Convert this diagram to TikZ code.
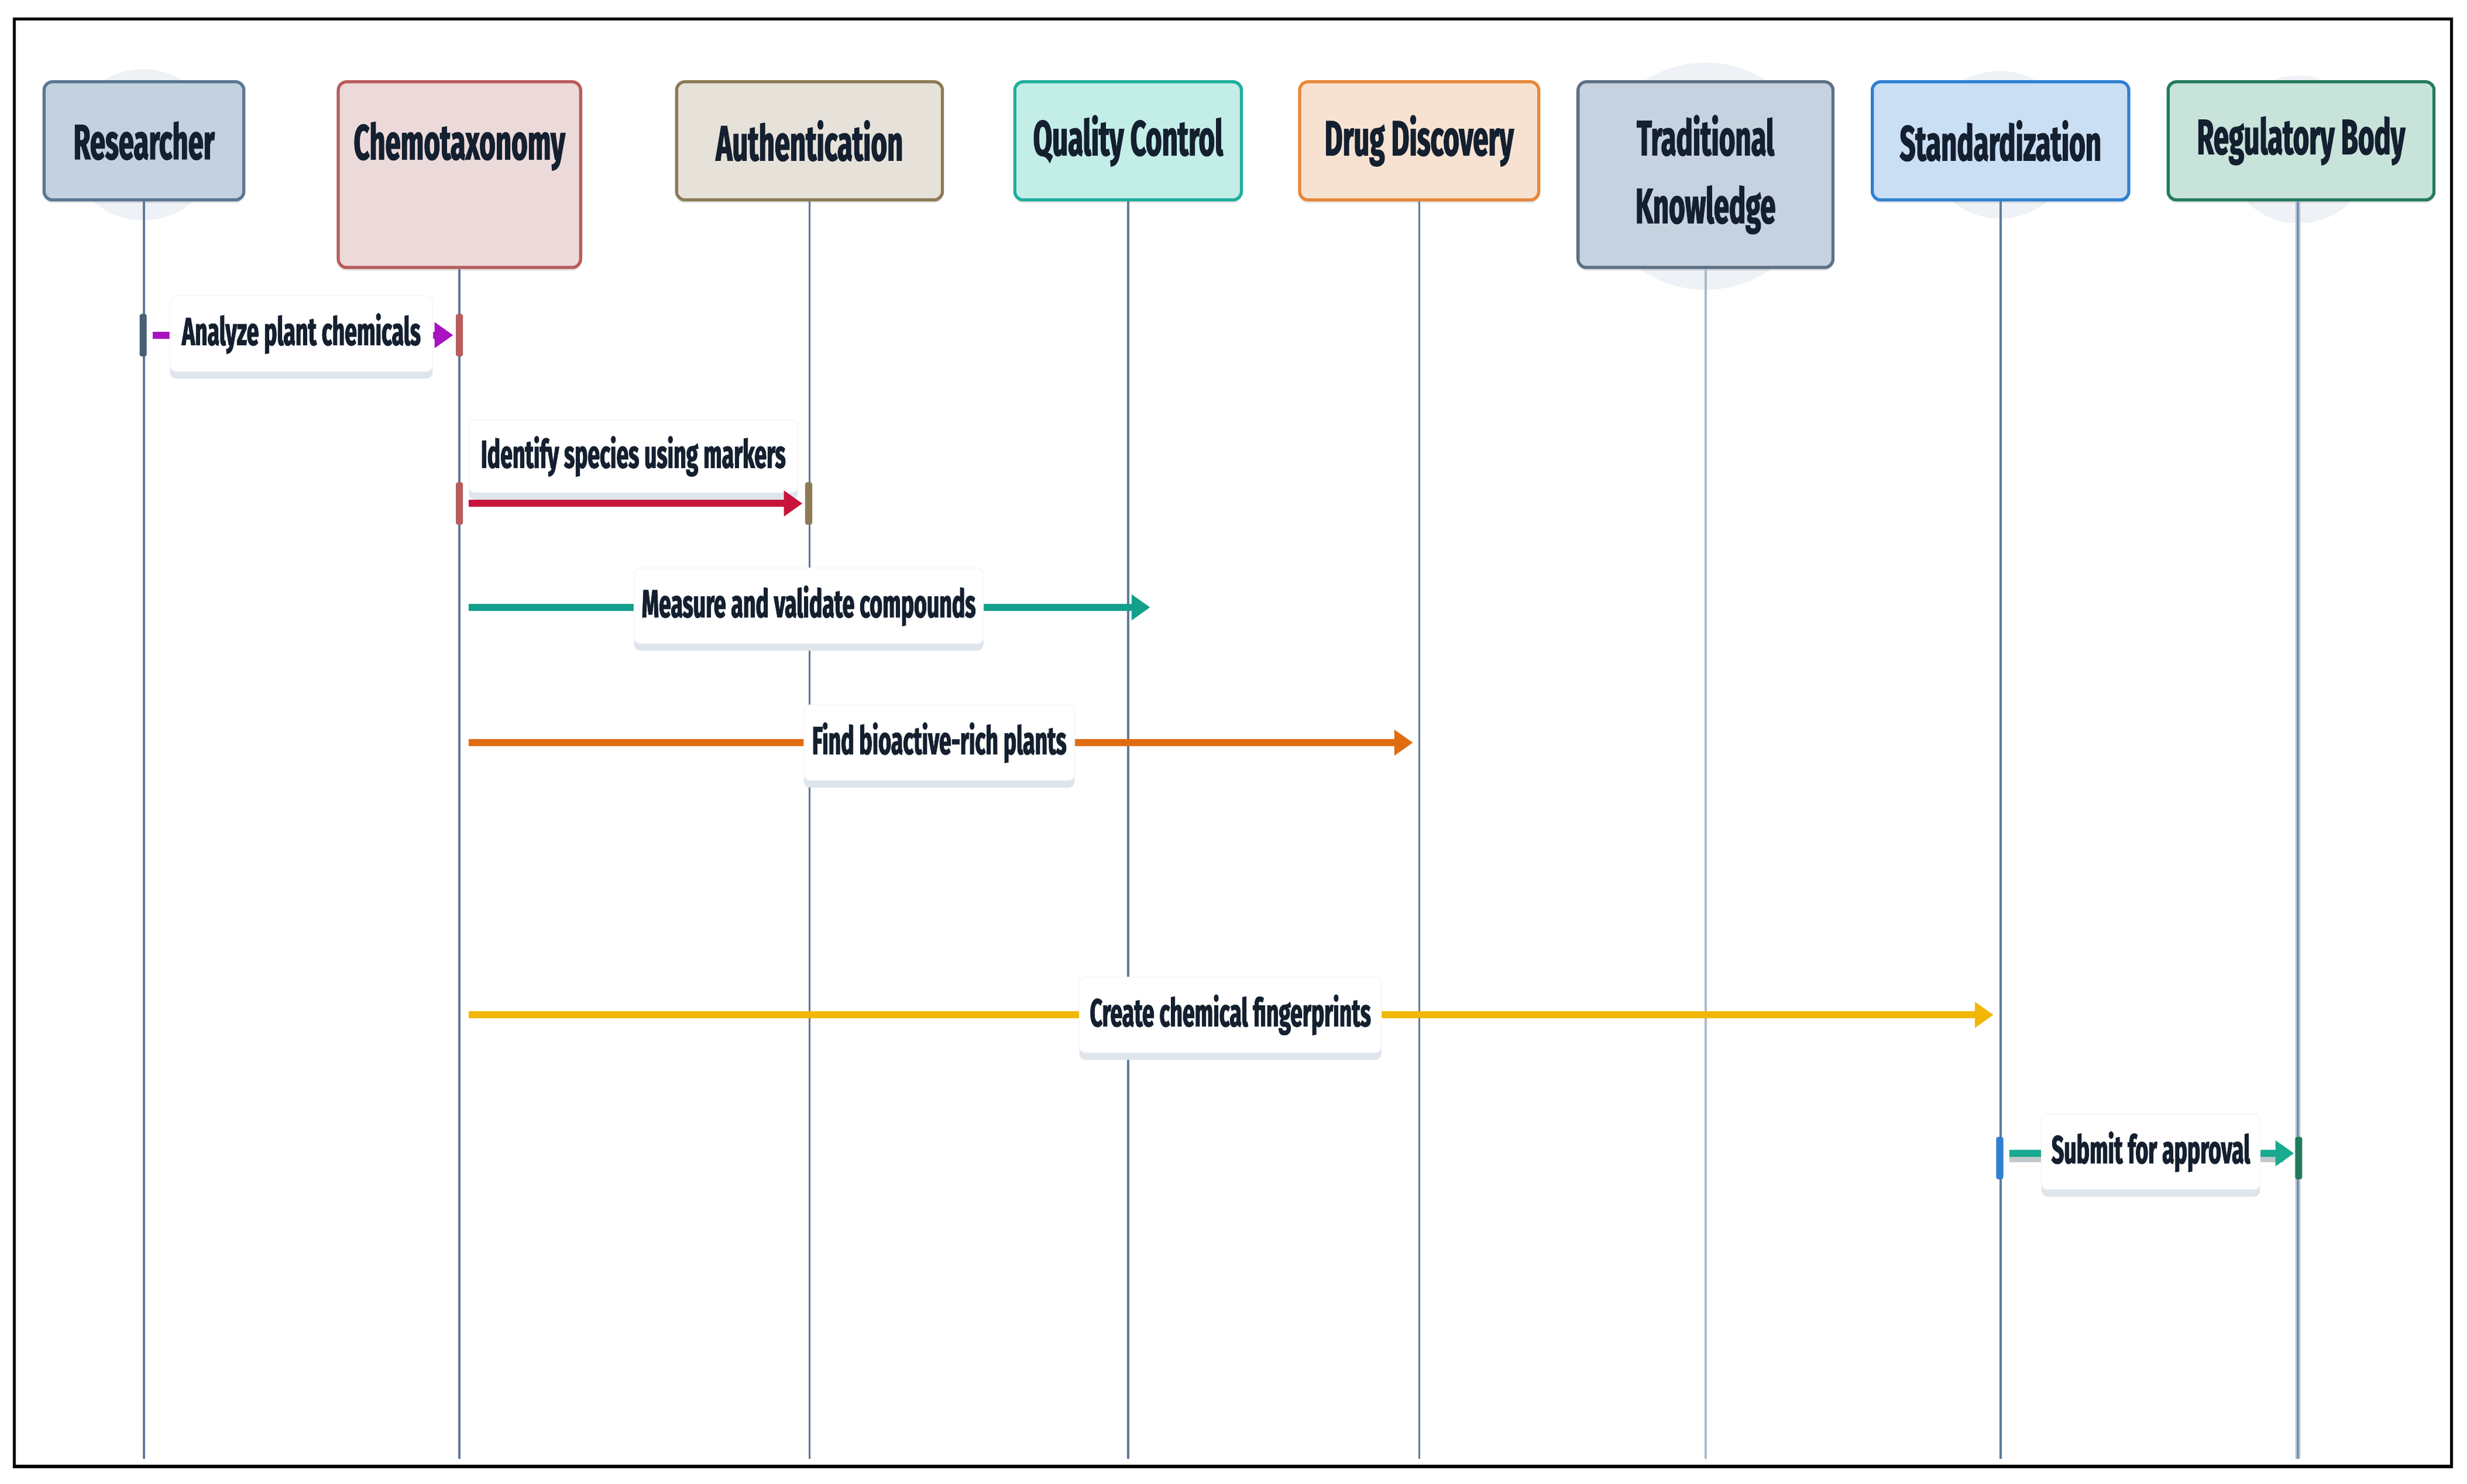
\documentclass[tikz,border=0pt]{standalone}
\usepackage{fontspec}
\newfontfamily\lblfont[FakeStretch=0.56,FakeBold=1.6]{Fira Sans}
\usetikzlibrary{arrows.meta,shadows}
\definecolor{txt}{HTML}{14202F}
\definecolor{lifec}{HTML}{5F7C99}
\definecolor{lifelight}{HTML}{A9BCCF}
\definecolor{haloc}{HTML}{EEF1F5}
\definecolor{shadowc}{HTML}{DFE5EC}
\definecolor{resF}{HTML}{C4D2DF}\definecolor{resD}{HTML}{5B7793}
\definecolor{chemF}{HTML}{ECDADA}\definecolor{chemD}{HTML}{B85C5C}
\definecolor{authF}{HTML}{E6E1D9}\definecolor{authD}{HTML}{8C7B55}
\definecolor{qcF}{HTML}{C3EDE7}\definecolor{qcD}{HTML}{1FAE9C}
\definecolor{ddF}{HTML}{F7E2D2}\definecolor{ddD}{HTML}{E8873A}
\definecolor{tkF}{HTML}{C6D2DF}\definecolor{tkD}{HTML}{5D7186}
\definecolor{stdF}{HTML}{CADFF4}\definecolor{stdD}{HTML}{2F80D2}
\definecolor{regF}{HTML}{C8E3DA}\definecolor{regD}{HTML}{237A5E}
\definecolor{mpurple}{HTML}{A812C0}
\definecolor{mcrimson}{HTML}{C8143C}
\definecolor{mteal}{HTML}{12A08C}
\definecolor{morange}{HTML}{E06C12}
\definecolor{mgold}{HTML}{F2B705}
\definecolor{mteal2}{HTML}{1AAA90}
\def\ux{0.02689cm}
\begin{document}
\begin{tikzpicture}[x=0.02689cm,y=-0.02689cm,
  hdr/.style={draw, rounded corners=4pt, line width=1.5pt, align=center, text=txt,
    font=\lblfont\bfseries\fontsize{24}{33}\selectfont, inner sep=0pt,
    drop shadow={shadow xshift=0pt, shadow yshift=-1.5pt, fill=black, opacity=0.12}},
  lbl/.style={fill=white, draw=black!4, rounded corners=3pt, text=txt,
    font=\lblfont\bfseries\fontsize{19}{22}\selectfont, inner sep=0pt,
    minimum height=48*\ux,
    drop shadow={shadow xshift=0pt, shadow yshift=-3.5pt, fill=shadowc, opacity=1}},
  life/.style={line width=1pt, draw=lifec},
  msg/.style={line width=3.4pt, -{Triangle[length=9pt,width=12pt]}},
  actbar/.style={inner sep=0pt, minimum width=4.5*\ux, minimum height=27*\ux, rounded corners=1pt}
]
\useasboundingbox (0,0) rectangle (1568,943);
\fill[white] (0,0) rectangle (1568,943);
\draw[line width=1.5pt, black] (9,12) rectangle (1558,932);

% halos
\fill[haloc] (91,92) circle[radius=1.29cm];
\fill[haloc] (1084,112) circle[radius=1.94cm];
\fill[haloc] (1271,92) circle[radius=1.26cm];
\fill[haloc] (1461,95) circle[radius=1.26cm];

% headers
\node[hdr, fill=resF, draw=resD, minimum width=127*\ux, minimum height=75*\ux] (res) at (91.5,89.5) {Researcher};
\node[hdr, fill=chemF, draw=chemD, minimum width=154*\ux, minimum height=118*\ux] (chem) at (292,111) {Chemotaxonomy\\\mbox{}};
\node[hdr, fill=authF, draw=authD, minimum width=169*\ux, minimum height=75*\ux] (auth) at (514.5,89.5) {Authentication};
\node[hdr, fill=qcF, draw=qcD, minimum width=144*\ux, minimum height=75*\ux] (qc) at (717,89.5) {Quality Control};
\node[hdr, fill=ddF, draw=ddD, minimum width=152*\ux, minimum height=75*\ux] (dd) at (902,89.5) {Drug Discovery};
\node[hdr, fill=tkF, draw=tkD, minimum width=162*\ux, minimum height=118*\ux] (tk) at (1084,111) {Traditional\\Knowledge};
\node[hdr, fill=stdF, draw=stdD, minimum width=163*\ux, minimum height=75*\ux] (std) at (1271.5,89.5) {Standardization};
\node[hdr, fill=regF, draw=regD, minimum width=169*\ux, minimum height=75*\ux] (reg) at (1462.5,89.5) {Regulatory Body};

% lifelines
\coordinate (bot) at (0,927);
\draw[life] (res.south) -- (res.south |- bot);
\draw[life] (chem.south) -- (chem.south |- bot);
\draw[life] (auth.south) -- (auth.south |- bot);
\draw[life] (qc.south) -- (qc.south |- bot);
\draw[life] (dd.south) -- (dd.south |- bot);
\draw[line width=1.2pt, draw=lifelight] (tk.south) -- (tk.south |- bot);
\draw[life] (std.south) -- (std.south |- bot);
\draw[line width=2.4pt, draw=lifelight] ([xshift=-1.5pt]reg.south) -- ([xshift=-1.5pt]reg.south |- bot);
\draw[line width=0.7pt, draw=lifec] ([xshift=-1.5pt]reg.south) -- ([xshift=-1.5pt]reg.south |- bot);

% message end points
\coordinate (m1s) at (97,213);   \coordinate (m1e) at (288,213);
\coordinate (m2s) at (298,320);  \coordinate (m2e) at (510,320);
\coordinate (m3s) at (298,386);  \coordinate (m3e) at (731,386);
\coordinate (m4s) at (298,472);  \coordinate (m4e) at (898,472);
\coordinate (m5s) at (298,645);  \coordinate (m5e) at (1267,645);
\coordinate (m6s) at (1277,733); \coordinate (m6e) at (1458,733);

% label above message 2 (drawn first so the arrow stays on top)
\node[lbl, minimum width=209*\ux, minimum height=46*\ux] (l2) at (402.5,290) {Identify species using markers};

% messages
\draw[msg, mpurple] (m1s) -- (m1e);
\draw[msg, mcrimson] (m2s) -- (m2e);
\draw[msg, mteal] (m3s) -- (m3e);
\draw[msg, morange] (m4s) -- (m4e);
\draw[msg, mgold] (m5s) -- (m5e);
\draw[line width=2.8pt, shadowc!70!gray] ([yshift=-3pt]m6s) -- ([yshift=-3pt,xshift=-5pt]m6e);
\draw[msg, mteal2] (m6s) -- (m6e);

% labels on the messages
\node[lbl, minimum width=167*\ux] (l1) at (191.5,212) {Analyze plant chemicals};
\node[lbl, minimum width=222*\ux] (l3) at (514,385) {Measure and validate compounds};
\node[lbl, minimum width=172*\ux] (l4) at (597,472) {Find bioactive-rich plants};
\node[lbl, minimum width=192*\ux] (l5) at (782,645) {Create chemical fingerprints};
\node[lbl, minimum width=139*\ux] (l6) at (1367,732) {Submit for approval};

% activation bars
\node[actbar, fill=resD!80!black] (a1) at (91,213) {};
\node[actbar, fill=chemD] (a2) at (292,213) {};
\node[actbar, fill=chemD] (a3) at (292,320) {};
\node[actbar, fill=authD] (a4) at (514,320) {};
\node[actbar, fill=stdD] (a5) at (1271,736) {};
\node[actbar, fill=regD] (a6) at (1461,736) {};
\end{tikzpicture}
\end{document}
